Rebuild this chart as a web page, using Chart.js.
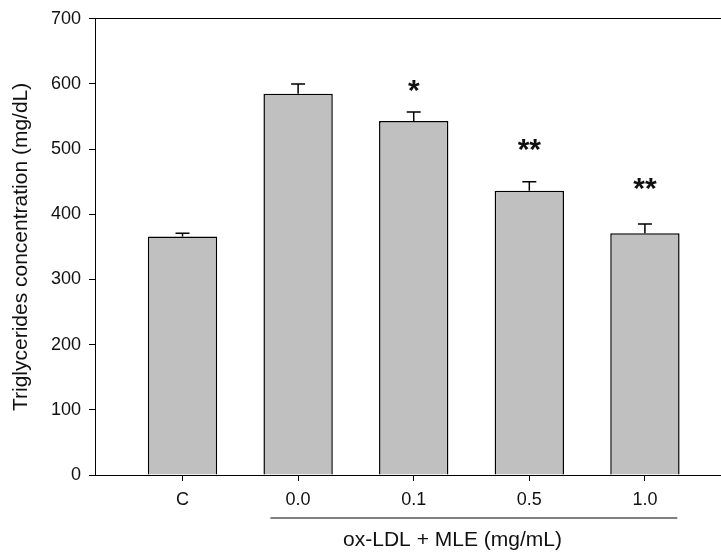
<!DOCTYPE html>
<html>
<head>
<meta charset="utf-8">
<script src="https://cdn.jsdelivr.net/npm/chart.js@4.4.1/dist/chart.umd.min.js"></script>
<style>
    html, body { margin: 0; padding: 0; width: 721px; height: 556px; overflow: hidden; background: #fff; }
    #wrap { width: 810px; height: 556px; }
</style>
</head>
<body>
<div id="wrap"><canvas id="tgChart" width="810" height="556"></canvas></div>
<script>
const groups = ["C", "0.0", "0.1", "0.5", "1.0"];
const meanTG = [366, 585, 543, 436, 371];
const semTG = [5, 15, 14, 14, 14];
const sigMarks = ["", "", "*", "**", "**"];
const sigLevels = [null, null, 597, 507, 447];
const yTicks = [0, 100, 200, 300, 400, 500, 600, 700];

const fontFamily = "'Liberation Sans', Arial, sans-serif";
const ink = "#111";

// error caps, significance stars and the treatment bracket under the axis
const annotate = {
    id: "annotate",
    afterDatasetsDraw(chart) {
        const ctx = chart.ctx;
        const xs = chart.scales.x;
        const ys = chart.scales.y;
        ctx.save();

        ctx.strokeStyle = "#000";
        ctx.lineWidth = 1.5;
        meanTG.forEach((m, i) => {
            const px = xs.getPixelForValue(i + 1);
            const base = ys.getPixelForValue(m);
            const top = ys.getPixelForValue(m + semTG[i]);
            ctx.beginPath();
            ctx.moveTo(px, base);
            ctx.lineTo(px, top);
            ctx.moveTo(px - 7, top);
            ctx.lineTo(px + 7, top);
            ctx.stroke();
        });

        ctx.fillStyle = ink;
        ctx.font = "bold 30px " + fontFamily;
        ctx.textAlign = "center";
        ctx.textBaseline = "alphabetic";
        sigMarks.forEach((s, i) => {
            if (!s) return;
            const m = ctx.measureText(s);
            const mid = ys.getPixelForValue(sigLevels[i]);
            const yb = mid - (m.actualBoundingBoxDescent - m.actualBoundingBoxAscent) / 2;
            ctx.fillText(s, xs.getPixelForValue(i + 1), yb);
        });

        ctx.strokeStyle = "#808080";
        ctx.lineWidth = 2;
        const by = xs.top + 43;
        ctx.beginPath();
        ctx.moveTo(xs.getPixelForValue(1.76), by);
        ctx.lineTo(xs.getPixelForValue(5.28), by);
        ctx.stroke();

        ctx.restore();
    }
};

const tickFont = { family: fontFamily, size: 18 };
const titleFont = { family: fontFamily, size: 21 };

new Chart(document.getElementById("tgChart"), {
    type: "bar",
    data: {
        datasets: [{
            data: meanTG.map((v, i) => ({ x: i + 1, y: v })),
            backgroundColor: "#c0c0c0",
            borderColor: "#000",
            borderWidth: 1.5,
            categoryPercentage: 1,
            barPercentage: 0.6
        }]
    },
    options: {
        responsive: false,
        animation: false,
        layout: { padding: 0 },
        plugins: {
            legend: { display: false },
            tooltip: { enabled: false }
        },
        scales: {
            x: {
                type: "linear",
                position: "bottom",
                offset: false,
                min: 0.243,
                max: 6.428,
                afterBuildTicks: (scale) => { scale.ticks = groups.map((_, i) => ({ value: i + 1 })); },
                afterFit: (scale) => { scale.height = 81; },
                ticks: {
                    color: ink,
                    font: tickFont,
                    padding: 8,
                    maxRotation: 0,
                    autoSkip: false,
                    callback: (v) => groups[v - 1]
                },
                grid: { offset: false, drawOnChartArea: false, tickLength: 6, color: "#000", lineWidth: 1 },
                border: { color: "#000", width: 1 },
                title: {
                    display: true,
                    text: "ox-LDL + MLE (mg/mL)",
                    color: ink,
                    font: titleFont,
                    padding: { top: 0, bottom: 3 }
                }
            },
            xTop: {
                type: "linear",
                position: "top",
                offset: false,
                min: 0.243,
                max: 6.428,
                afterFit: (scale) => { scale.height = 18; },
                ticks: { display: false },
                grid: { display: false },
                border: { color: "#000", width: 1 }
            },
            y: {
                min: 0,
                max: 700,
                afterBuildTicks: (scale) => { scale.ticks = yTicks.map(v => ({ value: v })); },
                afterFit: (scale) => { scale.width = 95; },
                ticks: { color: ink, font: tickFont, padding: 8 },
                grid: { drawOnChartArea: false, tickLength: 6, color: "#000", lineWidth: 1 },
                border: { color: "#000", width: 1 },
                title: {
                    display: true,
                    text: "Triglycerides concentration (mg/dL)",
                    color: ink,
                    font: titleFont,
                    padding: { top: 9, bottom: 0 }
                }
            }
        }
    },
    plugins: [annotate]
});
</script>
</body>
</html>
